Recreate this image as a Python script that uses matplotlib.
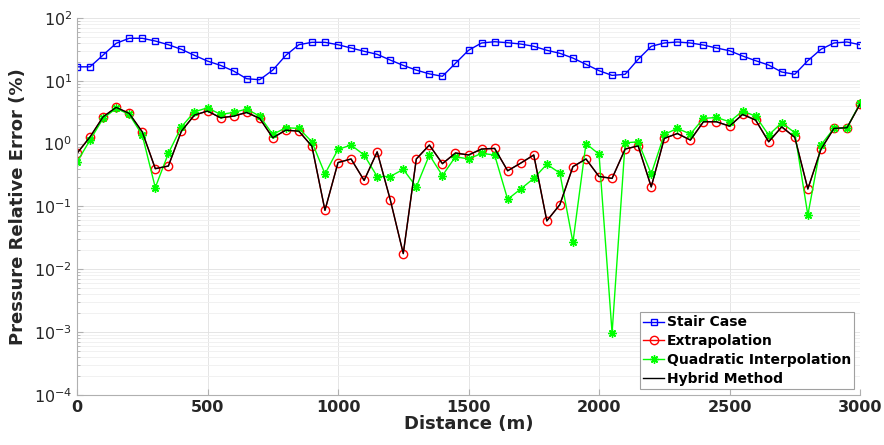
import numpy as np
import matplotlib
matplotlib.use('Agg')
import matplotlib.pyplot as plt

plt.rcParams['font.family'] = ['DejaVu Sans']
plt.rcParams['mathtext.fontset'] = 'dejavusans'

# Distancia (m)
distance = np.arange(0, 3001, 50)

stair_case = [16.7, 16.7, 25.7, 39.5, 47.5, 47.5, 43.0, 37.5, 31.7, 25.4,
              20.6, 17.6, 14.3, 10.8, 10.4, 14.8, 25.4, 37.5, 41.0, 41.0,
              37.5, 33.3, 29.5, 26.4, 21.4, 17.6, 14.8, 12.9, 11.8, 19.0,
              30.6, 40.0, 41.9, 40.4, 38.5, 35.4, 30.6, 27.4, 23.0, 18.3,
              14.5, 12.2, 12.7, 22.0, 35.4, 40.0, 41.5, 40.0, 37.1, 33.3,
              30.1, 24.8, 20.9, 17.8, 13.8, 12.7, 20.9, 31.7, 40.0, 41.5,
              37.5]

extrapolation = [0.70, 1.28, 2.67, 3.78, 3.03, 1.54, 0.40, 0.44, 1.58, 2.85,
                 3.30, 2.58, 2.74, 3.14, 2.52, 1.24, 1.64, 1.58, 0.91, 0.087,
                 0.50, 0.57, 0.26, 0.74, 0.129, 0.0178, 0.57, 0.95, 0.48, 0.71,
                 0.66, 0.82, 0.84, 0.37, 0.49, 0.66, 0.059, 0.107, 0.43, 0.57,
                 0.30, 0.28, 0.82, 0.92, 0.205, 1.21, 1.45, 1.14, 2.23, 2.23,
                 1.90, 2.92, 2.37, 1.07, 1.85, 1.26, 0.19, 0.81, 1.75, 1.79,
                 4.26]

quadratic = [0.51, 1.14, 2.52, 3.64, 2.92, 1.37, 0.20, 0.70, 1.85, 3.21,
             3.72, 2.92, 3.14, 3.55, 2.74, 1.40, 1.79, 1.75, 1.07, 0.33,
             0.81, 0.95, 0.66, 0.30, 0.30, 0.39, 0.205, 0.66, 0.31, 0.62,
             0.57, 0.70, 0.66, 0.13, 0.19, 0.28, 0.47, 0.34, 0.027, 1.0,
             0.68, 0.00097, 1.03, 1.07, 0.33, 1.40, 1.75, 1.42, 2.52, 2.61,
             2.23, 3.30, 2.74, 1.37, 2.15, 1.49, 0.073, 0.95, 1.75, 1.79,
             4.37]

hybrid = [0.70, 1.28, 2.67, 3.78, 3.03, 1.54, 0.40, 0.44, 1.58, 2.85,
          3.30, 2.58, 2.74, 3.14, 2.52, 1.24, 1.64, 1.58, 0.91, 0.087,
          0.50, 0.57, 0.26, 0.74, 0.129, 0.0178, 0.57, 0.95, 0.48, 0.71,
          0.66, 0.82, 0.84, 0.37, 0.49, 0.66, 0.059, 0.107, 0.43, 0.57,
          0.30, 0.28, 0.82, 0.92, 0.205, 1.21, 1.45, 1.14, 2.23, 2.23,
          1.90, 2.92, 2.37, 1.07, 1.85, 1.26, 0.19, 0.81, 1.75, 1.79,
          4.26]

fig = plt.figure(figsize=(8.84, 4.45), dpi=100)
ax = fig.add_axes([0.0871, 0.1124, 0.8858, 0.8472])

# asterisco estilo MATLAB
asterisk = (8, 2, 0)

ax.semilogy(distance, stair_case, '-s', color=(0, 0, 1), lw=1,
            mfc='none', mec=(0, 0, 1), ms=5, mew=1, label='Stair Case')
ax.semilogy(distance, extrapolation, '-o', color=(1, 0, 0), lw=1,
            mfc='none', mec=(1, 0, 0), ms=6, mew=1, label='Extrapolation')
ax.semilogy(distance, quadratic, '-', marker=asterisk, color=(0, 1, 0), lw=1,
            ms=6, mew=1, label='Quadratic Interpolation')
ax.semilogy(distance, hybrid, '-', color='k', lw=1, label='Hybrid Method')

ax.set_xlim(0, 3000)
ax.set_ylim(1e-4, 1e2)
ax.set_xticks(np.arange(0, 3001, 500))
ax.set_yticks([1e-4, 1e-3, 1e-2, 1e-1, 1e0, 1e1, 1e2])

ax.grid(True, which='major', color='#e0e0e0', lw=0.6)
ax.grid(True, which='minor', color='#efefef', lw=0.6)
ax.set_axisbelow(True)

for s in ['top', 'right']:
    ax.spines[s].set_visible(False)
for s in ['left', 'bottom']:
    ax.spines[s].set_color('#b0b0b0')
    ax.spines[s].set_linewidth(0.8)

ax.tick_params(which='both', direction='in', colors='#b0b0b0',
               labelcolor='#262626', labelsize=11.5)
ax.tick_params(which='major', length=4)
ax.tick_params(which='minor', length=2)
for lab in ax.get_xticklabels():
    lab.set_fontweight('bold')

ax.set_xlabel('Distance (m)', fontsize=13, fontweight='bold',
              color='#262626', labelpad=0)
ax.set_ylabel('Pressure Relative Error (%)', fontsize=13, fontweight='bold',
              color='#262626', labelpad=5)

leg = ax.legend(loc='lower right', prop={'weight': 'bold', 'size': 10},
                fancybox=False, framealpha=1, edgecolor='#a0a0a0',
                handlelength=1.5, handletextpad=0.2, borderpad=0.25,
                labelspacing=0.35, borderaxespad=0.4)
leg.get_frame().set_linewidth(0.8)

fig.savefig('out.png', dpi=100)
